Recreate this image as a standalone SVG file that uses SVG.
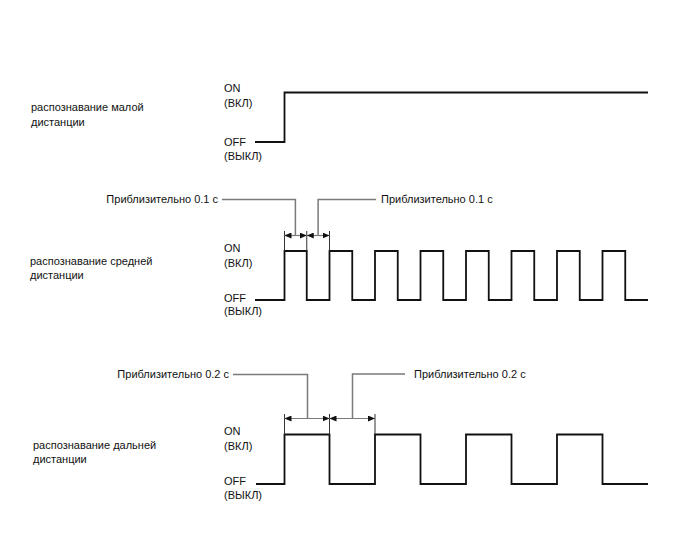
<svg xmlns="http://www.w3.org/2000/svg" width="688" height="560" viewBox="0 0 688 560">
<style>
text{font-family:"Liberation Sans",Arial,sans-serif;font-size:11px;fill:#111}
.wave{fill:none;stroke:#111;stroke-width:1.8}
.lead{fill:none;stroke:#7a7a7a;stroke-width:1.5}
.ext{fill:none;stroke:#333;stroke-width:1}
.dim{fill:none;stroke:#7a7a7a;stroke-width:1.2;marker-start:url(#arrS);marker-end:url(#arrE)}
</style>
<defs>
<marker id="arrE" markerUnits="userSpaceOnUse" markerWidth="7" markerHeight="6" refX="7" refY="3" orient="auto"><path d="M0,0 L7,3 L0,6 z" fill="#111"/></marker>
<marker id="arrS" markerUnits="userSpaceOnUse" markerWidth="7" markerHeight="6" refX="7" refY="3" orient="auto-start-reverse"><path d="M0,0 L7,3 L0,6 z" fill="#111"/></marker>
</defs>
<rect width="688" height="560" fill="#fff"/>

<g id="short-range">
<text x="31" y="111">распознавание малой</text>
<text x="31" y="126">дистанции</text>
<text x="224" y="92">ON</text>
<text x="224" y="107">(ВКЛ)</text>
<text x="224" y="146">OFF</text>
<text x="224" y="160">(ВЫКЛ)</text>
<path class="wave" d="M255,142 H284.5 V92.5 H648"/>
</g>

<g id="mid-range">
<text x="30" y="265">распознавание средней</text>
<text x="30" y="279">дистанции</text>
<text x="224" y="252">ON</text>
<text x="224" y="267">(ВКЛ)</text>
<text x="224" y="302">OFF</text>
<text x="224" y="315">(ВЫКЛ)</text>
<path class="wave" d="M255,300 H284.5 V251 H306.75 V300 H329.5 V251 H352.25 V300 H375 V251 H397.75 V300 H420.5 V251 H443.25 V300 H466 V251 H488.75 V300 H511.5 V251 H534.25 V300 H557 V251 H579.75 V300 H602.5 V251 H625.25 V300 H648"/>
</g>

<g id="long-range">
<text x="33" y="449">распознавание дальней</text>
<text x="33" y="463">дистанции</text>
<text x="224" y="435">ON</text>
<text x="224" y="450">(ВКЛ)</text>
<text x="224" y="485">OFF</text>
<text x="224" y="499">(ВЫКЛ)</text>
<path class="wave" d="M256,484 H284.5 V434.5 H329.5 V484 H375 V434.5 H420.5 V484 H466 V434.5 H511.5 V484 H557 V434.5 H602.5 V484 H648"/>
</g>

<g id="label-mid-1"><text x="218" y="203" text-anchor="end">Приблизительно 0.1 с</text></g>
<g id="label-mid-2"><text x="381" y="203">Приблизительно 0.1 с</text></g>
<g id="label-long-1"><text x="229" y="378" text-anchor="end">Приблизительно 0.2 с</text></g>
<g id="label-long-2"><text x="414" y="378">Приблизительно 0.2 с</text></g>

<g id="connectors">
<path class="lead" d="M222,199.5 H295.4 V235.5"/>
<path class="lead" d="M376,199.5 H318.1 V235.5"/>
<path class="ext" d="M284.5,231 V251 M306.75,231 V251 M329.5,231 V251"/>
<line class="dim" x1="284.5" y1="235.5" x2="306.75" y2="235.5"/>
<line class="dim" x1="306.75" y1="235.5" x2="329.5" y2="235.5"/>

<path class="lead" d="M233,374.5 H307.5 V418.5"/>
<path class="lead" d="M405,374 H352.5 V418.5"/>
<path class="ext" d="M284.5,414 V434.5 M329.5,414 V434.5 M375,414 V434.5"/>
<line class="dim" x1="284.5" y1="418.5" x2="329.5" y2="418.5"/>
<line class="dim" x1="329.5" y1="418.5" x2="375" y2="418.5"/>
</g>
</svg>
